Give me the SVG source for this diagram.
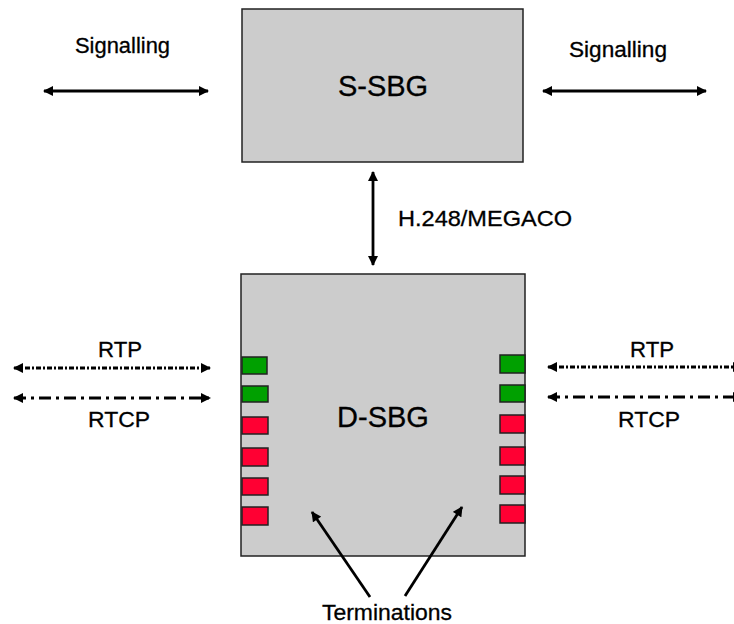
<svg xmlns="http://www.w3.org/2000/svg" width="734" height="624" viewBox="0 0 734 624">
<style>
.box{fill:#cccccc;stroke:#222;stroke-width:1.5}
.lbl{font-family:"Liberation Sans",Arial,sans-serif;fill:#000;stroke:#000;stroke-width:0.3}
.big{font-size:29px}
.sm{font-size:22px}
.ln{stroke:#000;stroke-width:2.8;fill:none}
.g{fill:#00a000;stroke:#222;stroke-width:1.5}
.r{fill:#ff0033;stroke:#222;stroke-width:1.5}
</style>
<defs>
<marker id="ah" viewBox="0 0 10 10" refX="9" refY="5" markerWidth="3.8" markerHeight="3.6" markerUnits="strokeWidth" orient="auto-start-reverse">
<path d="M0,0 L10,5 L0,10 z" fill="#000"/>
</marker>
</defs>
<rect width="734" height="624" fill="#fff"/>
<g id="s-sbg">
<rect class="box" x="242" y="9" width="281" height="153"/>
<text class="lbl big" x="383" y="96" text-anchor="middle">S-SBG</text>
</g>
<g id="d-sbg">
<rect class="box" x="241" y="274" width="284" height="282"/>
<text class="lbl big" x="383" y="427" text-anchor="middle">D-SBG</text>
</g>
<g id="terminations-left">
<rect class="g" x="242" y="357" width="25" height="17"/>
<rect class="g" x="242" y="386" width="26" height="16"/>
<rect class="r" x="242" y="417" width="26" height="17"/>
<rect class="r" x="242" y="448" width="26" height="18"/>
<rect class="r" x="242" y="478" width="26" height="17"/>
<rect class="r" x="242" y="507" width="26" height="18"/>
</g>
<g id="terminations-right">
<rect class="g" x="500" y="355" width="25" height="18"/>
<rect class="g" x="500" y="385" width="25" height="17"/>
<rect class="r" x="500" y="415" width="25" height="18"/>
<rect class="r" x="500" y="447" width="25" height="18"/>
<rect class="r" x="500" y="476" width="25" height="18"/>
<rect class="r" x="500" y="505" width="25" height="18"/>
</g>
<g id="labels">
<text class="lbl sm" x="75" y="53" textLength="95" lengthAdjust="spacingAndGlyphs">Signalling</text>
<text class="lbl sm" x="569" y="57" textLength="98" lengthAdjust="spacingAndGlyphs">Signalling</text>
<text class="lbl sm" x="398" y="226" textLength="174" lengthAdjust="spacingAndGlyphs">H.248/MEGACO</text>
<text class="lbl sm" x="98" y="357" textLength="44" lengthAdjust="spacingAndGlyphs">RTP</text>
<text class="lbl sm" x="88" y="427" textLength="62" lengthAdjust="spacingAndGlyphs">RTCP</text>
<text class="lbl sm" x="630" y="357" textLength="44" lengthAdjust="spacingAndGlyphs">RTP</text>
<text class="lbl sm" x="618" y="427" textLength="62" lengthAdjust="spacingAndGlyphs">RTCP</text>
<text class="lbl sm" x="322" y="620" textLength="130" lengthAdjust="spacingAndGlyphs">Terminations</text>
</g>
<g id="connectors">
<line class="ln" x1="44" y1="91" x2="208" y2="91" marker-start="url(#ah)" marker-end="url(#ah)"/>
<line class="ln" x1="543" y1="91" x2="706" y2="91" marker-start="url(#ah)" marker-end="url(#ah)"/>
<line class="ln" x1="373" y1="172" x2="373" y2="265" marker-start="url(#ah)" marker-end="url(#ah)"/>
<line class="ln" x1="14" y1="368" x2="210" y2="368" stroke-dasharray="5,2,2,2" marker-start="url(#ah)" marker-end="url(#ah)"/>
<line class="ln" x1="14" y1="398" x2="210" y2="398" stroke-dasharray="12,5,3,5" marker-start="url(#ah)" marker-end="url(#ah)"/>
<line class="ln" x1="548" y1="367" x2="742" y2="367" stroke-dasharray="5,2,2,2" marker-start="url(#ah)" marker-end="url(#ah)"/>
<line class="ln" x1="548" y1="397" x2="742" y2="397" stroke-dasharray="12,5,3,5" marker-start="url(#ah)" marker-end="url(#ah)"/>
<line class="ln" x1="370" y1="597" x2="312" y2="512" marker-end="url(#ah)"/>
<line class="ln" x1="405" y1="596" x2="462" y2="507" marker-end="url(#ah)"/>
</g>
</svg>
